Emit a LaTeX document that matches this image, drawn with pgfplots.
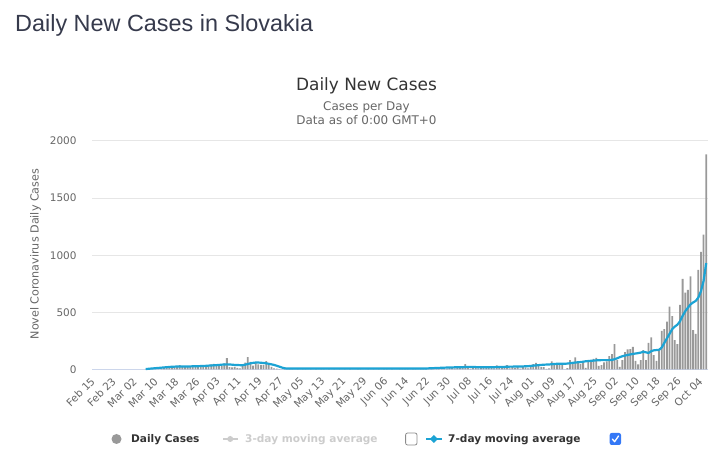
\documentclass[border=0pt]{standalone}
\usepackage{fontspec}
\setmainfont{DejaVu Sans}
\newfontfamily\headfont{Liberation Sans}
\usepackage{pgfplots}
\pgfplotsset{compat=1.18}
\usepackage{pgfplotstable}

\definecolor{barcol}{RGB}{153,153,153}
\definecolor{avgcol}{RGB}{28,163,212}
\definecolor{gridcol}{RGB}{230,230,230}
\definecolor{axiscol}{RGB}{204,214,235}
\definecolor{labcol}{RGB}{102,102,102}
\definecolor{titlecol}{RGB}{51,51,51}
\definecolor{headcol}{RGB}{54,58,76}
\definecolor{offcol}{RGB}{204,204,204}
\definecolor{boxcol}{RGB}{52,120,246}

% day index (0 = Feb 15), daily cases, 7-day moving average
\pgfplotstableread[row sep=\\]{
d c a \\
20 1 4 \\ 21 2 6 \\ 22 2 8 \\ 23 0 10 \\ 24 2 12 \\ 25 0 14 \\ 26 10 16 \\ 27 14 18 \\ 28 16 20 \\ 29 18 22 \\
30 20 24 \\ 31 24 25 \\ 32 22 26 \\ 33 38 27 \\ 34 28 27 \\ 35 30 27 \\ 36 22 27 \\ 37 26 27 \\ 38 30 28 \\ 39 36 28 \\
40 26 29 \\ 41 28 30 \\ 42 30 31 \\ 43 32 32 \\ 44 30 34 \\ 45 44 35 \\ 46 50 37 \\ 47 36 38 \\ 48 34 40 \\ 49 30 42 \\
50 53 44 \\ 51 99 45 \\ 52 20 44 \\ 53 18 42 \\ 54 22 40 \\ 55 14 39 \\ 56 10 38 \\ 57 35 38 \\ 58 61 42 \\ 59 108 48 \\
60 67 54 \\ 61 34 58 \\ 62 58 61 \\ 63 45 61 \\ 64 40 59 \\ 65 40 57 \\ 66 73 54 \\ 67 38 50 \\ 68 24 45 \\ 69 10 40 \\
70 8 33 \\ 71 4 25 \\ 72 2 17 \\ 73 3 11 \\ 74 1 8 \\ 75 3 8 \\ 76 5 8 \\ 77 2 8 \\ 78 4 8 \\ 79 1 8 \\
80 6 8 \\ 81 3 8 \\ 82 0 8 \\ 83 8 8 \\ 84 2 8 \\ 85 5 8 \\ 86 1 8 \\ 87 4 8 \\ 88 6 8 \\ 89 2 8 \\
90 3 8 \\ 91 0 8 \\ 92 5 8 \\ 93 2 8 \\ 94 7 8 \\ 95 1 8 \\ 96 3 8 \\ 97 0 8 \\ 98 4 8 \\ 99 2 8 \\
100 1 8 \\ 101 6 8 \\ 102 3 8 \\ 103 0 8 \\ 104 2 8 \\ 105 5 8 \\ 106 1 8 \\ 107 3 8 \\ 108 0 8 \\ 109 4 8 \\
110 2 8 \\ 111 8 8 \\ 112 3 8 \\ 113 1 8 \\ 114 5 8 \\ 115 0 8 \\ 116 2 8 \\ 117 4 8 \\ 118 9 8 \\ 119 3 8 \\
120 6 8 \\ 121 1 8 \\ 122 4 8 \\ 123 7 9 \\ 124 2 9 \\ 125 10 9 \\ 126 5 9 \\ 127 12 9 \\ 128 8 10 \\ 129 3 11 \\
130 14 12 \\ 131 9 13 \\ 132 6 14 \\ 133 18 15 \\ 134 11 16 \\ 135 7 17 \\ 136 20 18 \\ 137 13 18 \\ 138 9 19 \\ 139 16 19 \\
140 22 20 \\ 141 12 20 \\ 142 47 22 \\ 143 20 23 \\ 144 8 23 \\ 145 18 22 \\ 146 22 21 \\ 147 10 20 \\ 148 25 20 \\ 149 15 19 \\
150 12 19 \\ 151 28 19 \\ 152 20 20 \\ 153 10 20 \\ 154 37 21 \\ 155 20 21 \\ 156 15 22 \\ 157 20 23 \\ 158 39 24 \\ 159 10 25 \\
160 20 25 \\ 161 15 26 \\ 162 20 26 \\ 163 8 26 \\ 164 25 27 \\ 165 18 28 \\ 166 10 29 \\ 167 30 31 \\ 168 47 34 \\ 169 58 36 \\
170 30 38 \\ 171 20 40 \\ 172 20 42 \\ 173 5 43 \\ 174 10 44 \\ 175 70 46 \\ 176 41 48 \\ 177 50 50 \\ 178 50 50 \\ 179 40 50 \\
180 0 50 \\ 181 12 52 \\ 182 82 55 \\ 183 50 58 \\ 184 105 61 \\ 185 70 63 \\ 186 50 65 \\ 187 62 68 \\ 188 15 72 \\ 189 70 74 \\
190 70 76 \\ 191 93 78 \\ 192 102 80 \\ 193 32 81 \\ 194 38 82 \\ 195 62 82 \\ 196 70 82 \\ 197 117 82 \\ 198 134 84 \\ 199 222 90 \\
200 82 98 \\ 201 23 108 \\ 202 82 116 \\ 203 152 122 \\ 204 175 127 \\ 205 178 132 \\ 206 199 136 \\ 207 76 140 \\ 208 44 143 \\ 209 82 148 \\
210 170 155 \\ 211 82 150 \\ 212 234 145 \\ 213 281 160 \\ 214 126 168 \\ 215 76 170 \\ 216 164 172 \\ 217 337 192 \\ 218 354 232 \\ 219 418 272 \\
220 550 312 \\ 221 468 352 \\ 222 257 375 \\ 223 222 392 \\ 224 565 422 \\ 225 793 470 \\ 226 673 510 \\ 227 697 540 \\ 228 814 570 \\ 229 345 587 \\
230 311 600 \\ 231 872 630 \\ 232 1030 685 \\ 233 1180 775 \\ 234 1883 931 \\
}\covid

\begin{document}
\begin{tikzpicture}[x=1bp,y=1bp]
\path[use as bounding box] (0,0) rectangle (726,464);

% page heading
\node[anchor=base west, inner sep=0, text=headcol,
      font=\headfont\fontsize{23.5}{28}\selectfont] at (15,432.3) {Daily New Cases in Slovakia};

% chart titles
\node[anchor=base, inner sep=0, text=titlecol, font=\fontsize{17}{20}\selectfont] at (366.5,373.3) {Daily New Cases};
\node[anchor=base, inner sep=0, text=labcol, font=\fontsize{12}{14}\selectfont] at (366.5,353.3) {Cases per Day};
\node[anchor=base, inner sep=0, text=labcol, font=\fontsize{12}{14}\selectfont] at (366.5,339) {Data as of 0:00 GMT+0};

% y axis title
\node[anchor=base, inner sep=0, rotate=90, text=labcol, font=\fontsize{11.2}{13}\selectfont] at (38.5,210) {Novel Coronavirus Daily Cases};

\begin{axis}[
  at={(92bp,94.5bp)}, anchor=south west, scale only axis,
  width=615.5bp, height=228.5bp,
  xmin=-0.5, xmax=234.5, ymin=0, ymax=2000,
  axis line style={draw=none},
  ytick={500,1000,1500,2000},
  extra y ticks={0},
  extra y tick style={major grid style={draw=axiscol, line width=1bp}},
  ymajorgrids,
  major grid style={draw=gridcol, line width=1bp},
  major tick length=0pt,
  xtick={0,8,...,232},
  xticklabels={Feb 15, Feb 23, Mar 02, Mar 10, Mar 18, Mar 26, Apr 03, Apr 11, Apr 19, Apr 27,
    May 05, May 13, May 21, May 29, Jun 06, Jun 14, Jun 22, Jun 30, Jul 08, Jul 16,
    Jul 24, Aug 01, Aug 09, Aug 17, Aug 25, Sep 02, Sep 10, Sep 18, Sep 26, Oct 04},
  tick label style={font=\fontsize{10.5}{12}\selectfont, text=labcol},
  xticklabel style={rotate=45, anchor=east, xshift=-4bp, yshift=-7bp},
  yticklabel style={xshift=-12bp},
  /pgf/number format/assume math mode=true,
  /pgf/number format/1000 sep={},
  clip=false,
]
\addplot[ybar, bar width=1.8bp, fill=barcol, draw=none] table[x=d, y=c] {\covid};
\addplot[avgcol, line width=2.2bp, line join=round, no marks] table[x=d, y=a] {\covid};
\end{axis}

% legend
\fill[barcol] (116.5,25) circle (5);
\node[anchor=base west, inner sep=0, text=titlecol, font=\bfseries\fontsize{10.6}{12}\selectfont] at (131,21) {Daily Cases};
\draw[offcol, line width=1.5] (223,25) -- (237.5,25);
\fill[offcol] (230.25,25) circle (3);
\node[anchor=base west, inner sep=0, text=offcol, font=\bfseries\fontsize{10.6}{12}\selectfont] at (245,21) {3-day moving average};
\draw[black!45, line width=0.8, rounded corners=2] (405.6,19) rectangle (417,31);
\draw[avgcol, line width=1.5] (426,25) -- (441.6,25);
\fill[avgcol] (433.8,29) -- (437.8,25) -- (433.8,21) -- (429.8,25) -- cycle;
\node[anchor=base west, inner sep=0, text=titlecol, font=\bfseries\fontsize{10.6}{12}\selectfont] at (448,21) {7-day moving average};
\fill[boxcol, rounded corners=2] (609.7,19) rectangle (621,31);
\draw[white, line width=1.3, line cap=round, line join=round] (612.3,25) -- (614.6,22.3) -- (618.5,28);
\end{tikzpicture}
\end{document}
